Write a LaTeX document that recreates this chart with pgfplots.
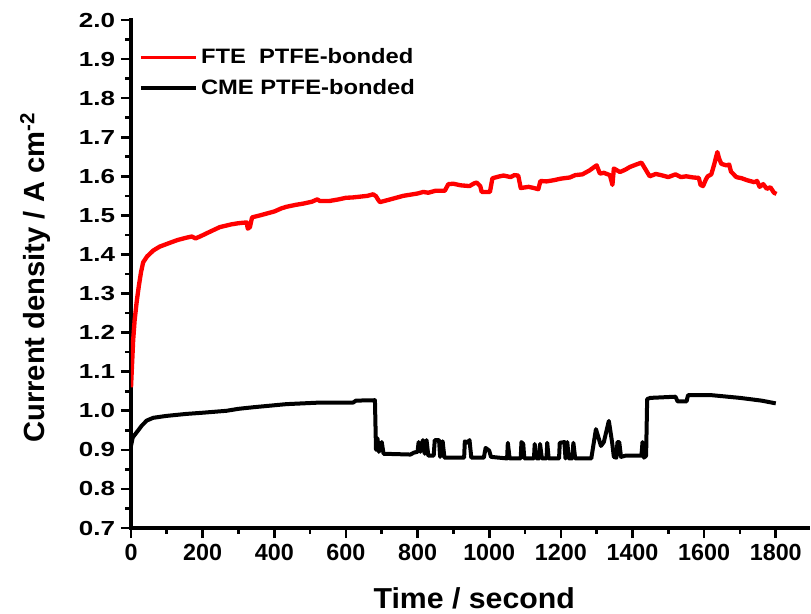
\documentclass[border=0pt]{standalone}
\usepackage{fontspec}
\setmainfont{Liberation Sans}
\newfontfamily\yfont{Liberation Sans Bold}[FakeStretch=1.28]
\newfontfamily\legfont{Liberation Sans Bold}[FakeStretch=1.14]
\newfontfamily\labfont{Liberation Sans Bold}[FakeStretch=1.05]
\usepackage{pgfplots}
\pgfplotsset{compat=1.18}
\begin{document}
\begin{tikzpicture}
\useasboundingbox (-78.6pt,-51pt) rectangle (408pt,316.8pt);
\begin{axis}[
  scale only axis,
  width=406.2pt, height=304.8pt,
  xmin=0, xmax=1890, ymin=0.7, ymax=2.0,
  axis lines*=left,
  axis line style={line width=2.4pt, line cap=rect},
  tick align=outside,
  major tick length=6pt, minor tick length=3.5pt,
  every tick/.style={black, line width=1.6pt},
  xtick={0,200,...,1800},
  ytick={0.7,0.8,...,2.01},
  minor x tick num=1, minor y tick num=1,
  /pgf/number format/assume math mode=true,
  xticklabel style={font=\bfseries\fontsize{14}{16}\selectfont, /pgf/number format/1000 sep={}},
  yticklabel style={font=\yfont\fontsize{12.2}{14}\selectfont, /pgf/number format/.cd, fixed, fixed zerofill, precision=1},
  xlabel={Time / second},
  ylabel={Current density / A cm\textsuperscript{-2}},
  xlabel style={font=\labfont\fontsize{17.3}{20}\selectfont, at={(axis description cs:0.507,-0.1575)}, anchor=base, inner sep=0pt},
  ylabel style={font=\bfseries\fontsize{17.5}{20}\selectfont, at={(axis description cs:-0.118,0.493)}, anchor=south, rotate=0, inner sep=0pt},
  legend style={draw=none, fill=none, at={(axis description cs:0.004,0.957)}, anchor=north west,
    font=\legfont\fontsize{12.5}{15}\selectfont, row sep=3.5pt},
  legend cell align=left,
  legend image code/.code={\draw[#1, line width=2.2pt] (0pt,0pt) -- (33pt,0pt);},
]
\addplot[red, line width=2.6pt, line join=round] coordinates {
(0,1.06) (3,1.12) (6,1.18) (10,1.23) (16,1.28) (22,1.32) (28,1.355) (34,1.38) (45,1.395)
(62,1.41) (80,1.42) (109,1.43) (130,1.437) (155,1.443) (170,1.446) (180,1.441) (195,1.447)
(220,1.458) (248,1.47) (280,1.477) (300,1.48) (323,1.482) (326,1.466) (332,1.47) (338,1.495)
(360,1.50) (380,1.505) (400,1.51) (420,1.518) (434,1.522) (460,1.527) (480,1.53) (505,1.535)
(520,1.541) (527,1.537) (555,1.537) (580,1.541) (600,1.545) (620,1.546) (640,1.548) (660,1.550)
(676,1.554) (684,1.549) (690,1.54) (695,1.534) (720,1.54) (740,1.545) (760,1.55) (780,1.553)
(800,1.556) (816,1.56) (830,1.558) (850,1.563) (876,1.563) (886,1.58) (900,1.581) (920,1.577)
(945,1.575) (958,1.582) (965,1.584) (975,1.575) (979,1.56) (1002,1.56) (1009,1.595) (1025,1.599)
(1040,1.602) (1060,1.598) (1070,1.603) (1081,1.602) (1088,1.57) (1110,1.573) (1125,1.57)
(1137,1.567) (1143,1.588) (1160,1.587) (1180,1.59) (1200,1.594) (1225,1.597) (1240,1.603)
(1260,1.605) (1280,1.615) (1295,1.625) (1300,1.628) (1309,1.607) (1320,1.609) (1337,1.603)
(1344,1.578) (1348,1.62) (1365,1.611) (1380,1.617) (1393,1.624) (1410,1.63) (1425,1.635)
(1435,1.62) (1448,1.60) (1465,1.606) (1480,1.603) (1500,1.598) (1520,1.605) (1535,1.598)
(1550,1.60) (1570,1.597) (1585,1.596) (1590,1.578) (1597,1.575) (1605,1.592) (1610,1.60)
(1620,1.605) (1628,1.63) (1633,1.648) (1637,1.662) (1642,1.645) (1648,1.632) (1655,1.63)
(1662,1.628) (1670,1.63) (1675,1.612) (1690,1.598) (1705,1.595) (1720,1.59) (1740,1.585)
(1748,1.588) (1755,1.573) (1765,1.58) (1775,1.568) (1785,1.572) (1795,1.558) (1802,1.555)
};
\addlegendentry{FTE\ \ PTFE-bonded}
\addplot[black, line width=2.4pt, line join=round] coordinates {
(0,0.91) (5,0.932) (16,0.945) (30,0.962) (44,0.975) (62,0.982) (100,0.987) (155,0.992)
(200,0.995) (267,1.0) (300,1.005) (341,1.009) (434,1.017) (527,1.021) (620,1.021) (628,1.026)
(681,1.027) (684,0.90) (688,0.93) (692,0.895) (700,0.92) (705,0.89) (780,0.888) (790,0.893)
(800,0.895) (803,0.92) (808,0.895) (815,0.925) (820,0.89) (825,0.925) (830,0.885) (845,0.885)
(848,0.925) (860,0.925) (863,0.882) (870,0.922) (875,0.88) (930,0.88) (932,0.922) (940,0.918)
(945,0.925) (950,0.88) (985,0.88) (990,0.905) (1000,0.898) (1005,0.882) (1050,0.878)
(1052,0.918) (1057,0.878) (1088,0.878) (1090,0.92) (1095,0.915) (1098,0.878) (1125,0.878)
(1127,0.915) (1132,0.878) (1140,0.878) (1142,0.915) (1147,0.878) (1160,0.878) (1162,0.918)
(1166,0.878) (1195,0.878) (1197,0.918) (1210,0.92) (1213,0.878) (1218,0.92) (1222,0.878)
(1232,0.878) (1235,0.918) (1240,0.878) (1285,0.878) (1298,0.953) (1312,0.91) (1320,0.92)
(1334,0.974) (1343,0.92) (1348,0.882) (1355,0.88) (1358,0.92) (1363,0.92) (1368,0.882)
(1380,0.885) (1400,0.885) (1425,0.885) (1428,0.92) (1432,0.88) (1438,0.885) (1441,1.03)
(1450,1.033) (1520,1.036) (1526,1.024) (1551,1.024) (1555,1.04) (1620,1.04) (1700,1.033)
(1760,1.026) (1800,1.019)
};
\addlegendentry{CME PTFE-bonded}
\end{axis}
\end{tikzpicture}
\end{document}
